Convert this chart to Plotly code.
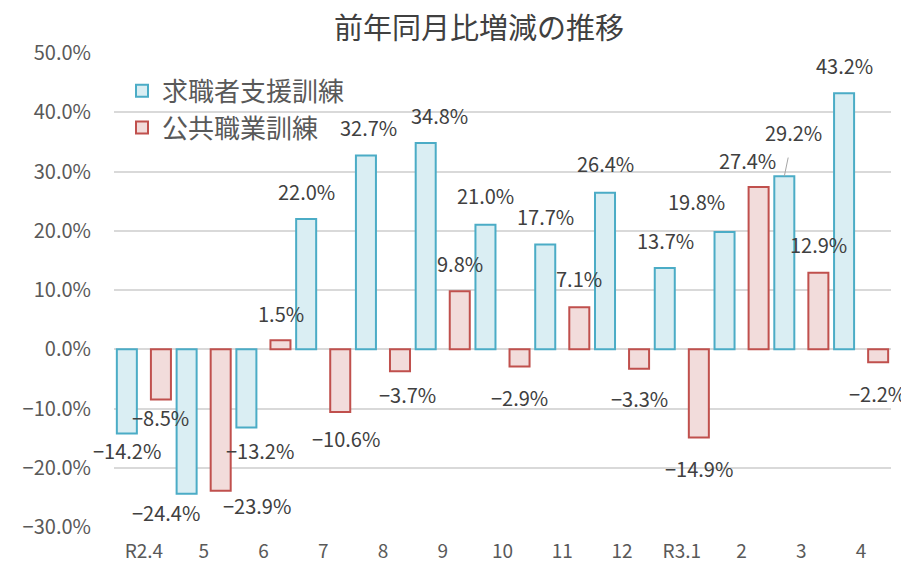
import plotly.graph_objects as go

categories = ["R2.4", "5", "6", "7", "8", "9", "10", "11", "12", "R3.1", "2", "3", "4"]
series_names = ["求職者支援訓練", "公共職業訓練"]
job_seeker = [-14.2, -24.4, -13.2, 22.0, 32.7, 34.8, 21.0, 17.7, 26.4, 13.7, 19.8, 29.2, 43.2]
public_training = [-8.5, -23.9, 1.5, -10.6, -3.7, 9.8, -2.9, 7.1, -3.3, -14.9, 27.4, 12.9, -2.2]
y_tick_values = [-30, -20, -10, 0, 10, 20, 30, 40, 50]

# label pixel shifts (dx, dy-down) per bar -- styling only
blue_shift = [(0, 17.5), (-21, 19), (13.5, 23.5), (0, -27), (2.5, -28), (14, -27.5), (0, -29),
              (0, -28), (0, -29), (1, -27.5), (-28.5, -30), (9, -43.5), (0, -27.5)]
red_shift = [(0, 18), (36, 15), (1, -27), (6, 26), (7.5, 23), (0, -28), (0, 31.5),
             (0, -29), (0, 30), (0, 31), (-11, -26), (0, -28), (-1, 31)]

FONT = "Noto Sans CJK JP"
BLUE_FILL, BLUE_LINE = "#DAEEF3", "#4BACC6"
RED_FILL, RED_LINE = "#F2DCDB", "#C0504D"
W = 0.335
OFF = 0.285

# page body has an 8px margin, so the figure is drawn 8px in from the corner
FIG_W, FIG_H = 901, 555

idx = list(range(len(categories)))

fig = go.Figure()
fig.add_trace(go.Bar(x=idx, y=[v / 100 for v in job_seeker], name=series_names[0],
                     width=W, offset=-OFF - W / 2,
                     marker=dict(color=BLUE_FILL, line=dict(color=BLUE_LINE, width=2))))
fig.add_trace(go.Bar(x=idx, y=[v / 100 for v in public_training], name=series_names[1],
                     width=W, offset=OFF - W / 2,
                     marker=dict(color=RED_FILL, line=dict(color=RED_LINE, width=2))))


def fmt(v):
    s = f"{abs(v):.1f}%"
    return ("−" + s) if v < 0 else s


annotations = []
for series, shifts, sign in ((job_seeker, blue_shift, -1), (public_training, red_shift, 1)):
    for i, (v, (dx, dy)) in enumerate(zip(series, shifts)):
        xpos = i + sign * OFF
        if series is job_seeker and i == 11:
            annotations.append(dict(x=xpos, y=v / 100, xref="x", yref="y", text=fmt(v),
                                    showarrow=True, arrowhead=0, arrowwidth=1, arrowcolor="#A6A6A6",
                                    ax=dx, ay=dy, startstandoff=9,
                                    font=dict(family=FONT, size=20, color="#404040")))
        else:
            annotations.append(dict(x=xpos, y=v / 100, xref="x", yref="y", text=fmt(v),
                                    showarrow=False, xshift=dx, yshift=-dy,
                                    xanchor="center", yanchor="middle",
                                    font=dict(family=FONT, size=20, color="#404040")))

fig.update_layout(
    width=FIG_W, height=FIG_H,
    margin=dict(l=106, r=18, t=45, b=36, autoexpand=False),
    paper_bgcolor="white", plot_bgcolor="white",
    barmode="overlay",
    title=dict(text="前年同月比増減の推移", x=471 / FIG_W, xanchor="center", xref="container",
               y=1 - 21 / FIG_H, yref="container", yanchor="middle",
               font=dict(family=FONT, size=29, color="#404040")),
    legend=dict(x=0.0103, y=0.9696, xanchor="left", yanchor="top", bgcolor="rgba(0,0,0,0)",
                font=dict(family=FONT, size=26, color="#595959"), traceorder="normal"),
    annotations=annotations,
    showlegend=True,
)
fig.update_xaxes(range=[-0.5, len(categories) - 0.5], tickvals=idx, ticktext=categories,
                 showgrid=False, zeroline=False, showline=False, ticks="", automargin=False,
                 tickfont=dict(family=FONT, size=19, color="#595959"), ticklabelstandoff=11)
fig.update_yaxes(range=[-0.3, 0.5], tickvals=[t / 100 for t in y_tick_values], tickformat=".1%",
                 showgrid=True, gridcolor="#D9D9D9", gridwidth=1.5, automargin=False,
                 zeroline=True, zerolinecolor="#D9D9D9", zerolinewidth=1.5,
                 showline=False, ticks="", ticklabelstandoff=22,
                 tickfont=dict(family=FONT, size=20, color="#595959"))

fig.write_html("out.html")
